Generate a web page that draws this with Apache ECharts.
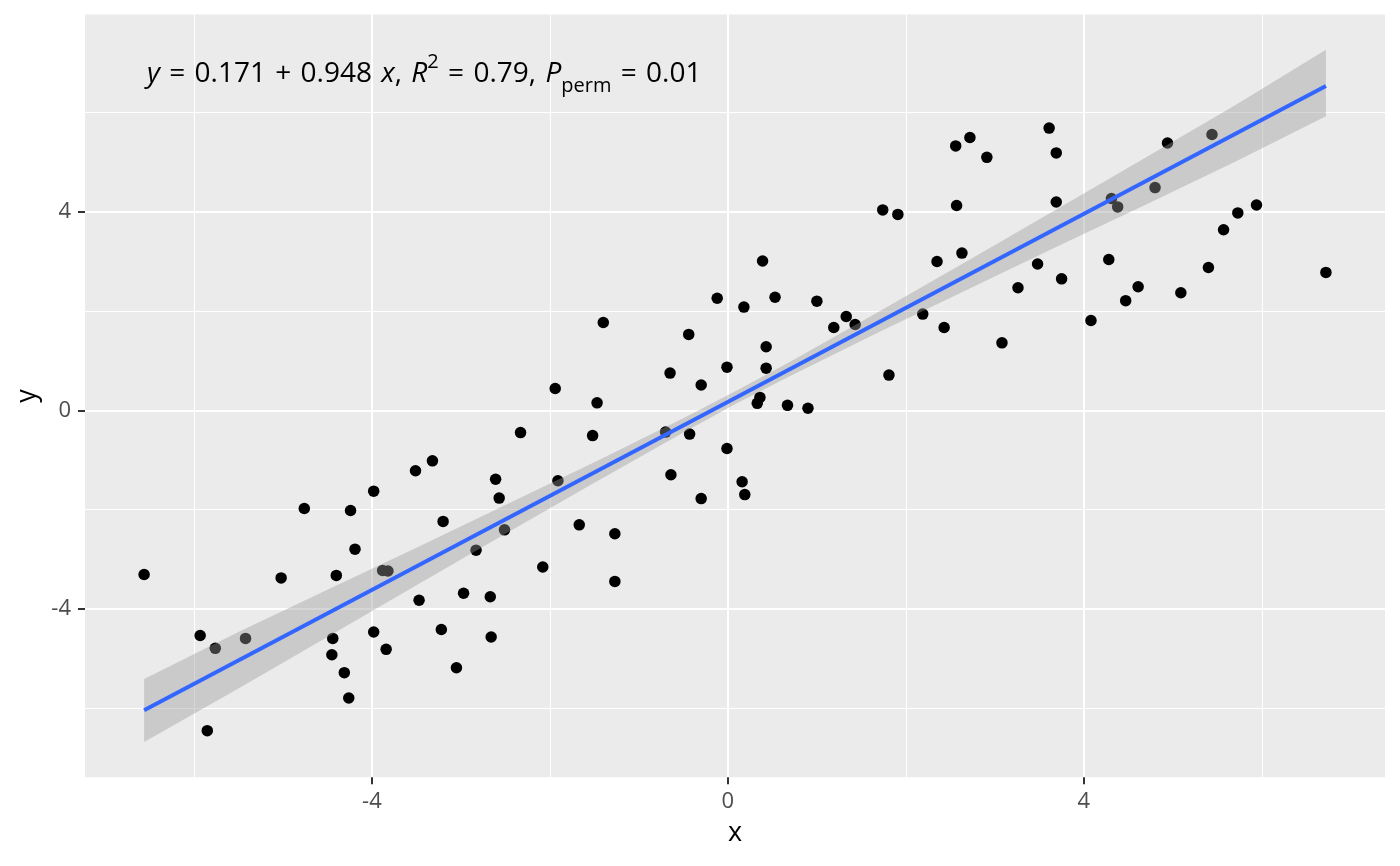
<!DOCTYPE html>
<html>
<head>
<meta charset="utf-8">
<script src="https://cdn.jsdelivr.net/npm/echarts@6/dist/echarts.min.js"></script>
<style>
html,body{margin:0;padding:0;background:#fff;}
#c{width:1400px;height:866px;}
</style>
</head>
<body>
<div id="c"></div>
<script>
// Scatter data
var xs = [-6.56,-4.76,-4.24,-3.98,-3.51,-4.19,-5.02,-4.40,-3.88,-3.82,-3.47,-5.93,-5.76,-5.42,-4.44,-4.45,-3.98,-3.84,-4.31,-4.26,-5.85,
  -0.65,-0.30,-0.01,-1.94,-1.47,-2.33,-1.52,-0.70,-0.43,-0.01,-3.32,-2.61,-2.57,-1.91,-0.64,-0.30,-3.20,-2.51,-1.67,-1.27,-2.83,-2.08,-1.27,-2.97,-2.67,-3.22,-2.66,-3.05,
  0.39,-0.12,0.18,0.53,1.00,1.33,1.19,1.43,-0.44,0.43,0.43,0.36,0.33,0.67,0.90,1.81,0.16,0.19,
  3.61,3.69,2.56,2.72,2.91,1.74,1.91,2.57,3.69,4.31,4.38,4.80,2.35,2.63,3.48,3.75,3.26,4.28,4.61,4.47,2.19,2.43,3.08,4.08,
  5.44,4.94,5.94,5.73,5.57,5.40,6.72,5.09,-1.40];
var ys = [-3.31,-1.98,-2.02,-1.63,-1.22,-2.80,-3.38,-3.33,-3.23,-3.24,-3.83,-4.54,-4.80,-4.60,-4.60,-4.93,-4.47,-4.82,-5.29,-5.80,-6.46,
  0.75,0.51,0.87,0.44,0.15,-0.45,-0.51,-0.44,-0.48,-0.77,-1.02,-1.39,-1.77,-1.42,-1.30,-1.78,-2.24,-2.41,-2.31,-2.49,-2.82,-3.16,-3.45,-3.69,-3.76,-4.42,-4.57,-5.19,
  3.01,2.26,2.08,2.28,2.20,1.89,1.67,1.73,1.53,1.28,0.85,0.26,0.14,0.10,0.04,0.71,-1.44,-1.70,
  5.69,5.19,5.33,5.50,5.10,4.04,3.95,4.13,4.20,4.27,4.10,4.49,3.00,3.17,2.95,2.65,2.47,3.04,2.49,2.21,1.94,1.67,1.36,1.81,
  5.56,5.39,4.14,3.98,3.64,2.88,2.78,2.37,1.77];

// Fitted line endpoints
var lineX = [-6.56, 6.72];
var lineY = [-6.05, 6.54];

// Confidence band
var bandX    = [-6.56, -5.5, -4.5, -3.5, -2.5, -1.5, -0.5, 0.1, 0.7, 1.7, 2.7, 3.7, 4.7, 5.7, 6.72];
var bandLow  = [-6.69, -5.61, -4.57, -3.53, -2.49, -1.46, -0.45, 0.14, 0.69, 1.58, 2.44, 3.30, 4.15, 5.01, 5.93];
var bandHigh = [-5.42, -4.47, -3.62, -2.77, -1.91, -1.05, -0.16, 0.40, 0.98, 1.99, 3.02, 4.06, 5.10, 6.15, 7.27];

// Tick labels
var xTicks = [-4, 0, 4];
var yTicks = [-4, 0, 4];

// Axis extents
var X_MIN = -7.224, X_MAX = 7.384;
var Y_MIN = -7.40, Y_MAX = 7.98;

var FONT = 'Open Sans';
var SP = '\u2004';

var chart = echarts.init(document.getElementById('c'), null, {renderer: 'canvas'});

var pts = xs.map(function (x, i) { return [x, ys[i]]; });
var linePts = lineX.map(function (x, i) { return [x, lineY[i]]; });

function axisCommon(ticks, min, max) {
  return {
    type: 'value',
    min: min,
    max: max,
    minInterval: 4,
    maxInterval: 4,
    axisLine: {show: false, onZero: false},
    axisTick: {show: true, inside: false, length: 7, customValues: ticks, lineStyle: {color: '#333333', width: 2}},
    axisLabel: {
      show: true, customValues: ticks, color: '#4D4D4D', fontSize: 22, fontFamily: FONT,
      formatter: function (v) { return ticks.indexOf(v) >= 0 ? String(v) : ''; }
    },
    splitLine: {show: true, lineStyle: {color: '#FFFFFF', width: 2}},
    minorTick: {show: false, splitNumber: 2},
    minorSplitLine: {show: true, lineStyle: {color: '#FFFFFF', width: 1.1}},
    nameLocation: 'middle',
    nameTextStyle: {color: '#000000', fontSize: 27, fontFamily: FONT}
  };
}

var xAx = axisCommon(xTicks, X_MIN, X_MAX);
xAx.name = 'x';
xAx.nameGap = 43;
xAx.axisLabel.margin = 13;
xAx.position = 'bottom';
var yAx = axisCommon(yTicks, Y_MIN, Y_MAX);
yAx.name = 'y';
yAx.nameGap = 42;
yAx.axisLabel.margin = 14;
yAx.position = 'left';

var eqText = {
  type: 'text',
  id: 'eq',
  z: 100,
  style: {
    x: 147,
    y: 74,
    verticalAlign: 'middle',
    align: 'left',
    text: '{i|y}{n|' + SP + '=' + SP + '0.171' + SP + '+' + SP + '0.948' + SP + '}{i|x}{n|,' + SP + '}{i|R}{sup|2}{n|' + SP + '=' + SP + '0.79,' + SP + '}{i|P}{sub|perm}{n|' + SP + '=' + SP + '0.01}',
    rich: {
      n: {fontSize: 28, fontFamily: FONT, color: '#000', lineHeight: 44, verticalAlign: 'middle'},
      i: {fontSize: 28, fontFamily: FONT, fontStyle: 'italic', color: '#000', lineHeight: 44, verticalAlign: 'middle'},
      sup: {fontSize: 20, fontFamily: FONT, color: '#000', lineHeight: 20, verticalAlign: 'top'},
      sub: {fontSize: 20, fontFamily: FONT, color: '#000', lineHeight: 20, verticalAlign: 'bottom'}
    }
  }
};

var option = {
  animation: false,
  backgroundColor: '#FFFFFF',
  grid: {left: 85, right: 15, top: 14.5, bottom: 88.7, show: true, backgroundColor: '#EBEBEB', borderWidth: 0,
         containLabel: false, outerBoundsMode: 'none'},
  xAxis: xAx,
  yAxis: yAx,
  graphic: [eqText],
  series: [
    {
      type: 'scatter',
      data: pts,
      symbol: 'circle',
      symbolSize: 11.5,
      itemStyle: {color: '#000000', opacity: 1},
      z: 2,
      silent: true
    },
    {
      type: 'custom',
      data: [[0, 0]],
      z: 3,
      silent: true,
      clip: true,
      renderItem: function (params, api) {
        var points = [];
        for (var i = 0; i < bandX.length; i++) points.push(api.coord([bandX[i], bandHigh[i]]));
        for (var j = bandX.length - 1; j >= 0; j--) points.push(api.coord([bandX[j], bandLow[j]]));
        return {type: 'polygon', shape: {points: points}, style: {fill: 'rgba(153,153,153,0.4)', stroke: null}};
      }
    },
    {
      type: 'line',
      data: linePts,
      showSymbol: false,
      symbol: 'none',
      lineStyle: {color: '#3366FF', width: 4},
      z: 4,
      silent: true
    }
  ]
};
chart.setOption(option);
</script>
</body>
</html>
